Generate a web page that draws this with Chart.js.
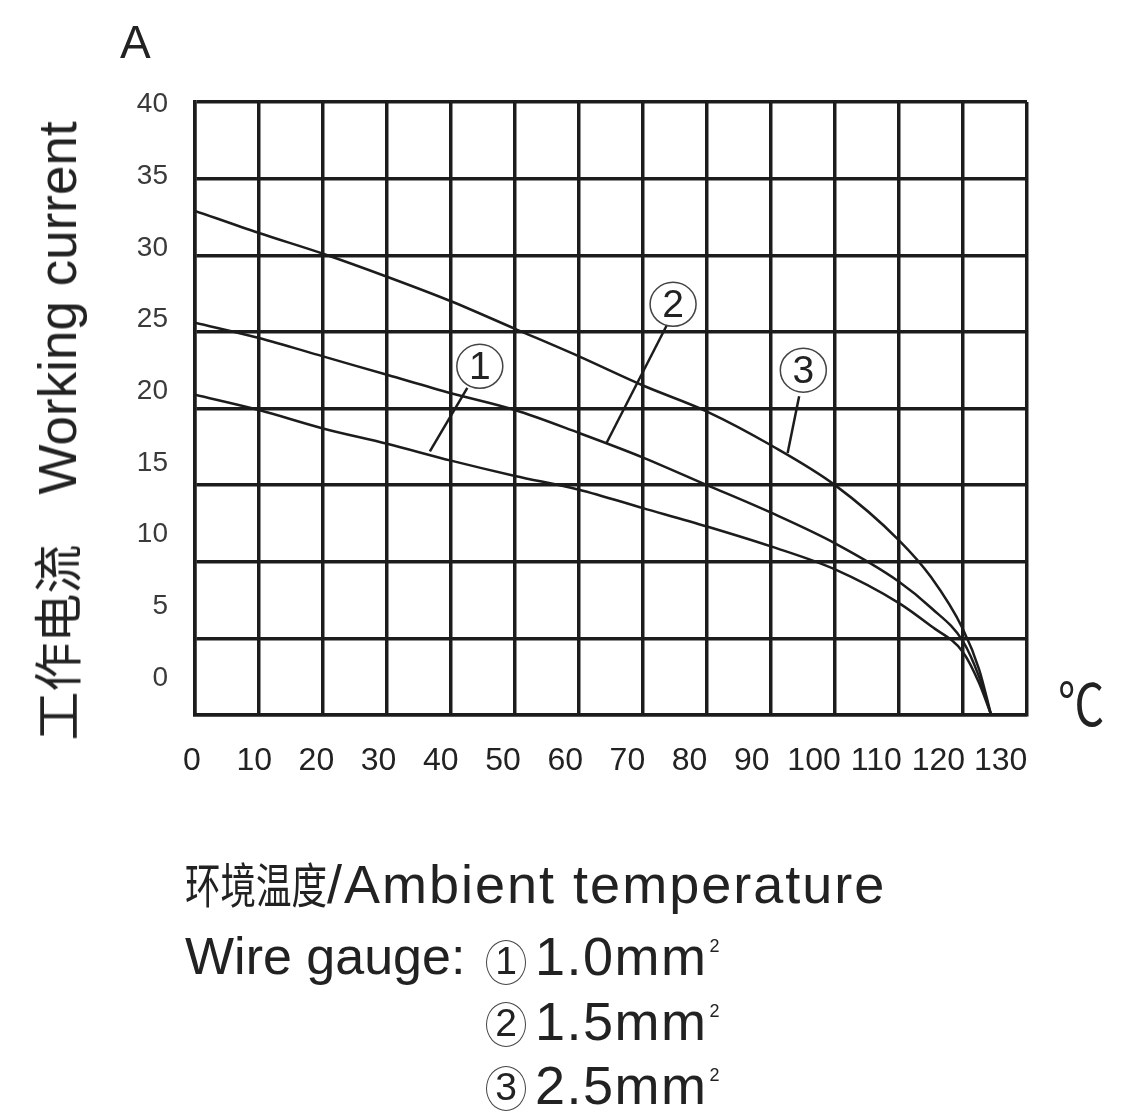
<!DOCTYPE html>
<html>
<head>
<meta charset="utf-8">
<script src="https://cdn.jsdelivr.net/npm/chart.js@4.4.1/dist/chart.umd.min.js"></script>
<style>
  html, body { margin: 0; padding: 0; background: #fff; }
  #wrap { position: relative; width: 1122px; height: 1114px; overflow: hidden; }
  #chart { position: absolute; left: 0; top: 0; }
  .txt { position: absolute; white-space: nowrap; color: #222; font-family: "Liberation Sans", Arial, sans-serif; line-height: 1; }
  .cjk { font-family: "Noto Sans CJK SC", sans-serif; }
  .squeeze { display: inline-block; transform: scaleX(0.74); transform-origin: left center; }
  .circ { position: absolute; width: 40px; height: 45px; border: 1.5px solid #444; border-radius: 50%; box-sizing: border-box;
          text-align: center; font: 39px/40px "Liberation Sans", sans-serif; color: #222; }
  sup.sq { font-size: 18px; position: relative; top: 8px; vertical-align: top; margin-left: 2px; letter-spacing: 0; }
</style>
</head>
<body>
<div id="wrap">
  <canvas id="chart" width="1122" height="1114"></canvas>

  <div class="txt" style="left:120px;top:19px;font-size:46px;">A</div>

  <div class="txt" style="left:56px;top:431px;font-size:53px;line-height:53px;transform:translate(-50%,-50%) rotate(-90deg);">
    <span class="cjk" style="font-size:49px">工作电流</span><span style="margin-left:50px">Working current</span>
  </div>

  <div class="txt cjk" style="left:1058px;top:672px;font-size:58px;transform:scaleX(0.8);transform-origin:left center;">℃</div>

  <div class="txt" style="left:185px;top:855px;font-size:54px;line-height:54px;">
    <span class="cjk squeeze" style="font-size:48px;margin-right:-50px;">环境温度</span><span style="letter-spacing:2px">/Ambient temperature</span>
  </div>

  <div class="txt" style="left:185px;top:930px;font-size:52px;">Wire gauge:</div>

  <div class="circ" style="left:486px;top:940px;">1</div>
  <div class="txt" style="left:535px;top:929px;font-size:54px;letter-spacing:1.5px;">1.0mm<sup class="sq">2</sup></div>

  <div class="circ" style="left:486px;top:1002px;">2</div>
  <div class="txt" style="left:535px;top:994px;font-size:54px;letter-spacing:1.5px;">1.5mm<sup class="sq">2</sup></div>

  <div class="circ" style="left:486px;top:1066px;">3</div>
  <div class="txt" style="left:535px;top:1058px;font-size:54px;letter-spacing:1.5px;">2.5mm<sup class="sq">2</sup></div>
</div>

<script>
// ambient temperature (°C) and working current (A)
const temps  = [0, 10, 20, 30, 40, 50, 60, 70, 80, 90, 100, 110, 115, 120, 122.5, 124.4];
const wire10 = [20.9, 19.9, 18.7, 17.7, 16.6, 15.6, 14.7, 13.5, 12.3, 11.0, 9.5, 7.3, 5.8, 4.1, 2.1, 0];
const wire15 = [25.6, 24.6, 23.4, 22.2, 21.0, 19.9, 18.4, 16.8, 15.0, 13.2, 11.2, 8.7, 7.0, 4.8, 2.5, 0];
const wire25 = [32.9, 31.45, 30.1, 28.6, 27.0, 25.2, 23.4, 21.5, 19.8, 17.6, 15.0, 11.4, 9.0, 5.6, 3.0, 0];

const xTickLabels = [0, 10, 20, 30, 40, 50, 60, 70, 80, 90, 100, 110, 120, 130];
const yTickLabels = [0, 5, 10, 15, 20, 25, 30, 35, 40];

// circled curve numbers with their leader lines (data units)
const callouts = [
  { text: '1', cx: 44.5, cy: 22.75, x1: 42.55, y1: 21.35, x2: 36.7, y2: 17.2 },
  { text: '2', cx: 74.7, cy: 26.8,  x1: 73.8,  y1: 25.5,  x2: 64.3, y2: 17.75 },
  { text: '3', cx: 95.05, cy: 22.5, x1: 94.4,  y1: 20.8,  x2: 92.6, y2: 17.1 }
];

const ink = '#1c1c1c';

const calloutPlugin = {
  id: 'callouts',
  afterDatasetsDraw(chart) {
    const { ctx, scales: { x, y } } = chart;
    ctx.save();
    callouts.forEach(c => {
      ctx.strokeStyle = ink;
      ctx.lineWidth = 2.5;
      ctx.beginPath();
      ctx.moveTo(x.getPixelForValue(c.x1), y.getPixelForValue(c.y1));
      ctx.lineTo(x.getPixelForValue(c.x2), y.getPixelForValue(c.y2));
      ctx.stroke();

      const px = x.getPixelForValue(c.cx), py = y.getPixelForValue(c.cy);
      ctx.beginPath();
      ctx.ellipse(px, py, 23, 22, 0, 0, Math.PI * 2);
      ctx.fillStyle = '#fff';
      ctx.fill();
      ctx.lineWidth = 1.5;
      ctx.strokeStyle = '#444';
      ctx.stroke();

      ctx.fillStyle = '#222';
      ctx.font = '39px "Liberation Sans", sans-serif';
      ctx.textAlign = 'center';
      ctx.textBaseline = 'middle';
      ctx.fillText(c.text, px, py + 2);
    });
    ctx.restore();
  }
};

const line = (arr) => temps.map((t, i) => ({ x: t, y: arr[i] }));

Chart.defaults.font.family = '"Liberation Sans", Arial, sans-serif';
Chart.defaults.color = '#333';

new Chart(document.getElementById('chart'), {
  type: 'line',
  data: {
    datasets: [
      { label: '1.0mm²', data: line(wire10), xAxisID: 'x', yAxisID: 'y' },
      { label: '1.5mm²', data: line(wire15), xAxisID: 'x', yAxisID: 'y' },
      { label: '2.5mm²', data: line(wire25), xAxisID: 'x', yAxisID: 'y' }
    ]
  },
  options: {
    responsive: false,
    animation: false,
    layout: { padding: { left: 135, right: 95, top: 102, bottom: 339 } },
    plugins: { legend: { display: false }, tooltip: { enabled: false } },
    elements: {
      point: { radius: 0 },
      line: { borderWidth: 2.5, borderColor: ink, cubicInterpolationMode: 'monotone', fill: false }
    },
    scales: {
      x: {
        type: 'linear', position: 'bottom', weight: 0, min: 0, max: 130,
        ticks: { display: false, stepSize: 10 },
        grid: { color: ink, lineWidth: 3.5, drawTicks: false },
        border: { color: ink, width: 3.5 },
        afterFit(s) { s.height = 0; }
      },
      x2: {
        type: 'linear', position: 'bottom', weight: 1, min: 0.48, max: 134.24,
        grid: { display: false, drawTicks: false },
        border: { display: false },
        ticks: {
          autoSkip: false, maxRotation: 0, padding: 27, color: '#222',
          font: { size: 32, family: '"Liberation Sans Narrow", "Liberation Sans", sans-serif' }
        },
        afterBuildTicks(s) { s.ticks = xTickLabels.map(v => ({ value: v })); },
        afterFit(s) { s.height = 60; }
      },
      y: {
        type: 'linear', position: 'left', weight: 0, min: 0, max: 40,
        ticks: { display: false, stepSize: 5 },
        grid: { color: ink, lineWidth: 3.5, drawTicks: false },
        border: { color: ink, width: 3.5 },
        afterFit(s) { s.width = 0; }
      },
      y2: {
        type: 'linear', position: 'left', weight: 1, min: -2.58, max: 40.17,
        grid: { display: false, drawTicks: false },
        border: { display: false },
        ticks: { padding: 27, color: '#3a3a3a', font: { size: 28 } },
        afterBuildTicks(s) { s.ticks = yTickLabels.map(v => ({ value: v })); },
        afterFit(s) { s.width = 60; }
      }
    }
  },
  plugins: [calloutPlugin]
});
</script>
</body>
</html>
